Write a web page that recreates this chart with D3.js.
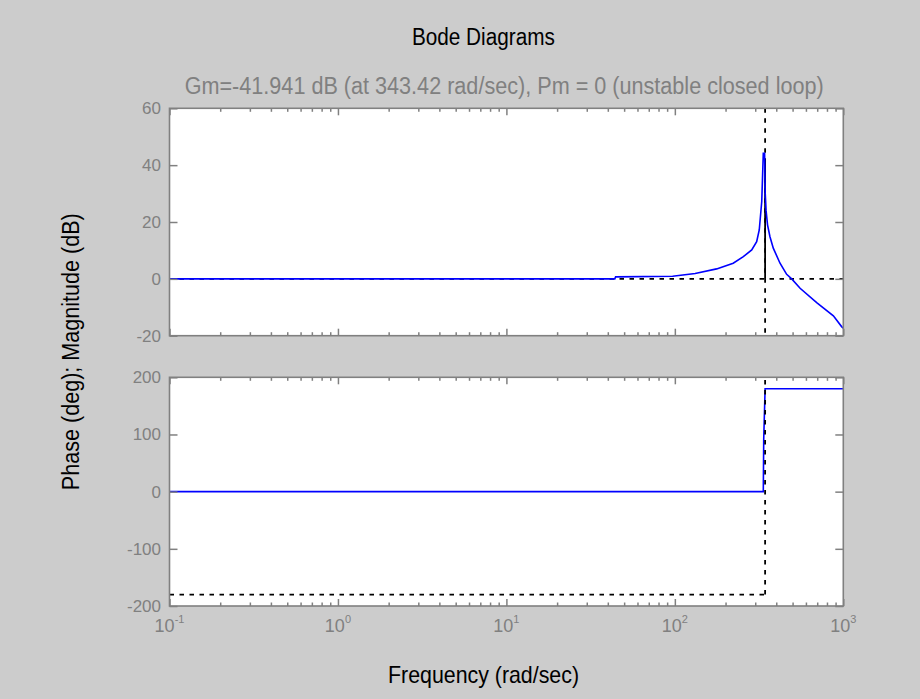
<!DOCTYPE html>
<html>
<head>
<meta charset="utf-8">
<script src="https://cdn.jsdelivr.net/npm/d3@7"></script>
<style>
  html, body { margin: 0; padding: 0; background: #cccccc; }
  svg { display: block; }
  text { font-family: "Liberation Sans", Arial, Helvetica, sans-serif; }
</style>
</head>
<body>
<svg id="chart" width="920" height="699"></svg>
<script>
// ---- Data ----
const titleText = "Bode Diagrams";
const subtitleText = "Gm=-41.941 dB (at 343.42 rad/sec), Pm = 0 (unstable closed loop)";
const xLabelText = "Frequency (rad/sec)";
const yLabelText = "Phase (deg); Magnitude (dB)";

const magFreq = [0.1, 1, 10, 44, 44.5, 97, 132, 177, 222, 255, 286, 306, 317, 328, 335, 341, 344, 348, 355, 367, 384, 421, 461, 494, 554, 695, 873, 977, 1000];
const magDb   = [0,   0, 0,  0,  0.7,  0.9, 1.9, 3.5, 5.5, 7.8, 10.2, 13.1, 17.2, 27.2, 44.2, 44.2, 30, 24, 19, 14.8, 10.8, 5.5, 1.6, 0, -3.3, -8.4, -13, -16.8, -17.4];

const phaseFreq = [0.1, 335, 337, 343.42, 1000];
const phaseDeg  = [0,   0,   92,  180,    180];

const wcGm = 343.42;      // phase crossover frequency
const gmDb = 41.941;      // gain at crossover (Gm = -41.941 dB)
const phaseRef = -180;    // phase reference line

const xDecades = [0.1, 1, 10, 100, 1000];
const xExponents = ["-1", "0", "1", "2", "3"];
const magTicks = [-20, 0, 20, 40, 60];
const phaseTicks = [-200, -100, 0, 100, 200];

// ---- Layout ----
const L = 169.5, R = 843.3;
const magTop = 108.3, magBot = 335.7;
const phTop = 377.3, phBot = 606;
const gray = "#808080";

const svg = d3.select("#chart");

const x = d3.scaleLog().domain([0.1, 1000]).range([L, R]);
const yMag = d3.scaleLinear().domain([-20, 60]).range([magBot, magTop]);
const yPh = d3.scaleLinear().domain([-200, 200]).range([phBot, phTop]);

const minors = [];
for (let e = -1; e < 3; e++) for (let m = 2; m <= 9; m++) minors.push(m * Math.pow(10, e));

function panel(top, bot) {
  const g = svg.append("g");
  g.append("rect").attr("x", L).attr("y", top).attr("width", R - L).attr("height", bot - top)
    .attr("fill", "#ffffff");
  return g;
}

function frame(g, y, top, bot, ticks) {
  const style = sel => {
    sel.select(".domain").remove();
    sel.selectAll(".tick line").attr("stroke", gray).attr("stroke-width", 1.5);
    sel.selectAll(".tick text").attr("fill", gray).attr("font-size", 17)
      .attr("font-family", "'Liberation Sans', Arial, sans-serif");
  };
  g.append("g").attr("transform", `translate(0,${bot})`)
    .call(d3.axisBottom(x).tickValues(xDecades).tickSize(-7).tickFormat("")).call(style);
  g.append("g").attr("transform", `translate(0,${bot})`)
    .call(d3.axisBottom(x).tickValues(minors).tickSize(-3.5).tickFormat("")).call(style);
  g.append("g").attr("transform", `translate(0,${top})`)
    .call(d3.axisTop(x).tickValues(xDecades).tickSize(-7).tickFormat("")).call(style);
  g.append("g").attr("transform", `translate(0,${top})`)
    .call(d3.axisTop(x).tickValues(minors).tickSize(-3.5).tickFormat("")).call(style);
  g.append("g").attr("transform", `translate(${L},0)`)
    .call(d3.axisLeft(y).tickValues(ticks).tickSize(-8).tickPadding(8.5).tickFormat(d => String(d))).call(style);
  g.append("g").attr("transform", `translate(${R},0)`)
    .call(d3.axisRight(y).tickValues(ticks).tickSize(-8).tickFormat("")).call(style);
  g.append("rect").attr("x", L).attr("y", top).attr("width", R - L).attr("height", bot - top)
    .attr("fill", "none").attr("stroke", gray).attr("stroke-width", 1.6);
}

const dash = "4.5,5.5";

// ---- Magnitude panel ----
const gm = panel(magTop, magBot);
gm.append("line").attr("x1", x(0.1)).attr("x2", x(1000)).attr("y1", yMag(0)).attr("y2", yMag(0))
  .attr("stroke", "#000").attr("stroke-width", 1.8).attr("stroke-dasharray", dash);
gm.append("line").attr("x1", x(wcGm)).attr("x2", x(wcGm)).attr("y1", yMag(60)).attr("y2", yMag(-20))
  .attr("stroke", "#000").attr("stroke-width", 1.8).attr("stroke-dasharray", dash);
gm.append("line").attr("x1", x(wcGm)).attr("x2", x(wcGm)).attr("y1", yMag(0)).attr("y2", yMag(gmDb))
  .attr("stroke", "#000").attr("stroke-width", 1.8);
const magData = magFreq.map((f, i) => ({ f, v: magDb[i] }));
gm.append("path").datum(magData)
  .attr("d", d3.line().x(d => x(d.f)).y(d => yMag(d.v)))
  .attr("fill", "none").attr("stroke", "#0000ff").attr("stroke-width", 1.6);
frame(gm, yMag, magTop, magBot, magTicks);

// ---- Phase panel ----
const gp = panel(phTop, phBot);
gp.append("line").attr("x1", x(0.1)).attr("x2", x(wcGm)).attr("y1", yPh(phaseRef)).attr("y2", yPh(phaseRef))
  .attr("stroke", "#000").attr("stroke-width", 1.8).attr("stroke-dasharray", dash);
const phData = phaseFreq.map((f, i) => ({ f, v: phaseDeg[i] }));
gp.append("path").datum(phData)
  .attr("d", d3.line().x(d => x(d.f)).y(d => yPh(d.v)))
  .attr("fill", "none").attr("stroke", "#0000ff").attr("stroke-width", 1.6);
gp.append("line").attr("x1", x(wcGm)).attr("x2", x(wcGm)).attr("y1", yPh(phaseRef)).attr("y2", yPh(200))
  .attr("stroke", "#000").attr("stroke-width", 1.8).attr("stroke-dasharray", dash);
frame(gp, yPh, phTop, phBot, phaseTicks);

// x tick labels: 10^n
const xl = svg.append("g").selectAll("text").data(xDecades).join("text")
  .attr("x", d => x(d)).attr("y", phBot + 26).attr("text-anchor", "middle")
  .attr("fill", gray).attr("font-size", 18);
xl.append("tspan").text("10");
xl.append("tspan").attr("dy", -9).attr("font-size", 11).text((d, i) => xExponents[i]);

// ---- Titles and labels ----
svg.append("text").attr("x", 483.4).attr("y", 45).attr("text-anchor", "middle")
  .attr("font-size", 23).attr("fill", "#000").attr("textLength", 143).attr("lengthAdjust", "spacingAndGlyphs")
  .text(titleText);
svg.append("text").attr("x", 504.2).attr("y", 94).attr("text-anchor", "middle")
  .attr("font-size", 23).attr("fill", gray).attr("textLength", 639).attr("lengthAdjust", "spacingAndGlyphs")
  .text(subtitleText);
svg.append("text").attr("x", 483.5).attr("y", 683).attr("text-anchor", "middle")
  .attr("font-size", 24).attr("fill", "#000").attr("textLength", 191).attr("lengthAdjust", "spacingAndGlyphs")
  .text(xLabelText);
svg.append("text").attr("transform", "translate(79.3,351.7) rotate(-90)").attr("text-anchor", "middle")
  .attr("font-size", 23).attr("fill", "#000").attr("textLength", 277).attr("lengthAdjust", "spacingAndGlyphs")
  .text(yLabelText);
</script>
</body>
</html>
